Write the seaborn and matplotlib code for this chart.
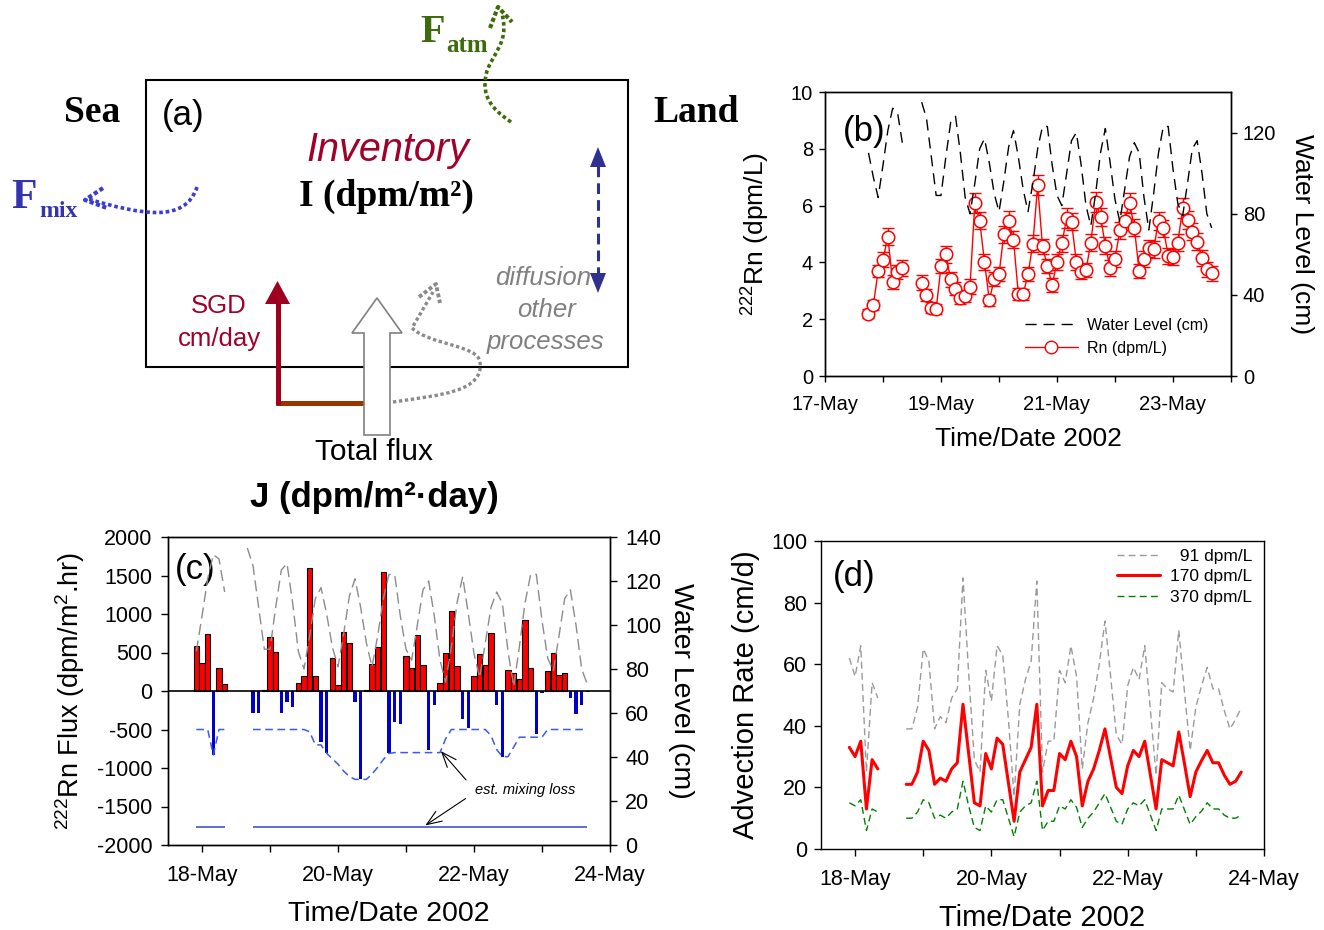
import numpy as np
import matplotlib
matplotlib.use("Agg")
import matplotlib.pyplot as plt
import seaborn as sns
from matplotlib.patches import Polygon, PathPatch
from matplotlib.path import Path
from matplotlib.lines import Line2D

W, H = 1324, 930

# ── Data ─────────────────────────────────────────────────────────────────────
# sampling times, hours after 17-May 00:00 (2-hour samples)
HOURS_B1 = np.arange(18, 33, 2)      # panel (b), first run
HOURS_B2 = np.arange(40, 161, 2)     # panel (b), second run
HOURS_CD1 = np.arange(22, 33, 2)     # panels (c)/(d), first run
HOURS_CD2 = np.arange(42, 161, 2)    # panels (c)/(d), second run

RN_1 = [2.2, 2.5, 3.7, 4.1, 4.9, 3.3, 3.65, 3.8]
RN_2 = [3.29, 2.85, 2.41, 2.35, 3.87, 4.29, 3.4, 3.08, 2.74, 2.82, 3.15, 6.1,
        5.47, 4.01, 2.66, 3.42, 3.58, 4.99, 5.47, 4.79, 2.89, 2.88, 3.58, 4.65,
        6.71, 4.56, 3.88, 3.2, 4.02, 4.67, 5.55, 5.44, 4.02, 3.67, 3.73, 4.7,
        6.14, 5.61, 4.59, 3.79, 4.12, 5.14, 5.47, 6.1, 5.22, 3.69, 4.12, 4.49,
        4.47, 5.46, 5.2, 4.24, 4.2, 4.7, 5.9, 5.48, 5.08, 4.73, 4.16, 3.75, 3.61]
RN_ERR_1 = [0.15, 0.18, 0.22, 0.25, 0.3, 0.25, 0.25, 0.28]
RN_ERR_2 = [0.25, 0.2, 0.2, 0.18, 0.25, 0.3, 0.25, 0.22, 0.2, 0.2, 0.25, 0.35,
            0.3, 0.28, 0.2, 0.25, 0.25, 0.3, 0.35, 0.3, 0.2, 0.2, 0.25, 0.3,
            0.35, 0.28, 0.25, 0.25, 0.28, 0.3, 0.35, 0.3, 0.28, 0.25, 0.25, 0.3,
            0.35, 0.32, 0.3, 0.28, 0.28, 0.3, 0.32, 0.35, 0.3, 0.25, 0.28, 0.3,
            0.3, 0.32, 0.3, 0.28, 0.28, 0.3, 0.35, 0.32, 0.3, 0.3, 0.28, 0.25, 0.25]

WL_1 = [110, 98, 88, 104, 121, 132, 130, 115]
WL_2 = [135, 127, 108, 89, 89, 108, 125, 128, 110, 88, 80, 95, 112, 117, 105,
        90, 81, 96, 113, 121, 108, 92, 81, 95, 112, 123, 123, 104, 89, 84, 100,
        116, 120, 104, 84, 74, 90, 110, 122, 105, 87, 76, 92, 108, 115, 110, 88,
        72, 90, 110, 123, 123, 102, 85, 79, 95, 112, 116, 100, 80, 73]

FLUX_1 = [590, 370, 745, -830, 300, 90]
FLUX_2 = [-280, -280, 10, 700, 510, -280, -147, -212, 100, 200,
          1594, 200, -667, -805, 424, 74, 762, 628, -147, -1148,
          17, 355, 567, 1546, -810, -398, -429, 455, 294, 727,
          333, -766, -182, 108, 494, 1039, 320, -368, -476, 190,
          480, 333, 749, -182, -853, 268, 234, 156, 927, 303,
          -563, -26, 264, 494, 208, 234, -95, -299, -186, -17]
MIX_1 = [-500, -500, -500, -830, -500, -500]
MIX_2 = [-500] * 10 + [
    -530, -700, -700, -810, -880, -950, -1040, -1110, -1148, -1148,
    -1148, -1080, -990, -890, -810, -800, -800, -800, -800, -800,
    -800, -800, -800, -800, -620, -500, -500, -500, -500, -500,
    -500, -500, -580, -760, -853, -853, -730, -600, -600, -600,
    -600, -600, -500, -500, -500, -500, -500, -500, -500, -500]
MIX_FLOOR = -1760

ADV91_1 = [62, 56, 66, 25, 54, 49]
ADV91_2 = [39, 39, 46, 65, 61, 39, 43, 41, 49, 52, 88, 57, 29, 25, 58, 48, 66,
           63, 42, 17, 47, 55, 61, 87, 25, 35, 35, 58, 54, 66, 56, 26, 41, 49,
           60, 74, 56, 37, 34, 53, 59, 55, 66, 45, 24, 54, 52, 51, 71, 51, 32,
           46, 53, 59, 52, 52, 45, 39, 42, 46]
ADV170_1 = [33, 30, 35, 13, 29, 26]
ADV170_2 = [21, 21, 25, 35, 32, 21, 23, 22, 26, 28, 47, 31, 15, 14, 31, 26, 36,
            34, 21.5, 9, 25, 29, 33, 47, 14, 19, 19, 31, 29, 35, 30, 14, 22, 26,
            32, 39, 29.5, 20, 18, 27, 32, 30, 35, 24, 13, 29, 28, 27, 38, 27.7,
            17, 25, 28.7, 32, 28, 28, 24, 21, 22, 25]
ADV370_1 = [15, 14, 16, 6, 13, 12]
ADV370_2 = [10, 10, 12, 16, 15, 10, 11, 10, 12, 13, 22, 14, 7, 6, 14, 12, 16,
            16, 10, 4, 12, 14, 15, 22, 6, 9, 9, 14, 13, 16, 13.5, 7, 10, 12, 15,
            18, 13.5, 9, 8, 13, 15, 14, 16, 11, 6, 13, 13, 13, 17.5, 12.7, 8,
            10.5, 12.3, 15, 13, 13, 11, 10, 10, 11]

DAYS_B = [17, 18, 19, 20, 21, 22, 23, 24]
DAY_LABELS_B = ["17-May", "", "19-May", "", "21-May", "", "23-May", ""]
DAYS_CD = [18, 19, 20, 21, 22, 23, 24]
DAY_LABELS_CD = ["18-May", "", "20-May", "", "22-May", "", "24-May"]


def to_day(hours):
    return 17 + np.asarray(hours) / 24.0


# ── Style ────────────────────────────────────────────────────────────────────
sns.set_theme(style="ticks")
plt.rcParams["font.family"] = ["Liberation Sans", "DejaVu Sans"]
plt.rcParams["mathtext.fontset"] = "custom"
plt.rcParams["mathtext.rm"] = "Liberation Sans"
plt.rcParams["mathtext.it"] = "Liberation Sans:italic"
plt.rcParams["axes.unicode_minus"] = False
plt.rcParams["text.color"] = "black"
plt.rcParams["axes.labelcolor"] = "black"
plt.rcParams["axes.edgecolor"] = "black"
plt.rcParams["axes.linewidth"] = 1.0
plt.rcParams["xtick.color"] = "black"
plt.rcParams["ytick.color"] = "black"

fig = plt.figure(figsize=(W / 100, H / 100), dpi=100)


def px_axes(left, top, right, bottom):
    return fig.add_axes([left / W, 1 - bottom / H, (right - left) / W, (bottom - top) / H])


def seg_line(ax, t, v, **kw):
    sns.lineplot(x=np.asarray(t, float), y=np.asarray(v, float), ax=ax,
                 sort=False, estimator=None, legend=False, **kw)


def style_ticks(ax, size, length, xpad=9.5, ypad=4.5):
    ax.tick_params(direction="out", length=length, width=1, labelsize=size,
                   colors="black")
    ax.tick_params(axis="x", pad=xpad)
    ax.tick_params(axis="y", pad=ypad)
    for s in ax.spines.values():
        s.set_visible(True)
        s.set_color("black")
        s.set_linewidth(1.0)


# ── Panel (a): box diagram, drawn in pixel coordinates ───────────────────────
ax_a = fig.add_axes([0, 0, 1, 1])
ax_a.set_xlim(0, W)
ax_a.set_ylim(H, 0)
ax_a.axis("off")

SERIF = "Liberation Serif"
RED_D = "#A0002A"
BLUE_D = "#3434B0"
GREEN_D = "#3D6B0C"
GREY = "#8A8A8A"

ax_a.add_patch(plt.Rectangle((146, 80), 482, 287, fill=False, ec="black", lw=1.5))

ax_a.text(92, 112, "Sea", family=SERIF, weight="bold", fontsize=27, ha="center", va="center")
ax_a.text(696, 112, "Land", family=SERIF, weight="bold", fontsize=27, ha="center", va="center")
ax_a.text(183, 115, "(a)", fontsize=25, ha="center", va="center")
ax_a.text(388, 150, "Inventory", style="italic", color=RED_D, fontsize=28.5, ha="center", va="center")
ax_a.text(386, 196, "I (dpm/m²)", family=SERIF, weight="bold", fontsize=27, ha="center", va="center")

# F_mix
ax_a.text(24, 198, "F", family=SERIF, weight="bold", color=BLUE_D, fontsize=30, ha="center", va="center")
ax_a.text(58, 211, "mix", family=SERIF, weight="bold", color=BLUE_D, fontsize=17, ha="center", va="center")
p = Path([(197, 187), (185, 224), (140, 214), (88, 199)],
         [Path.MOVETO, Path.CURVE4, Path.CURVE4, Path.CURVE4])
ax_a.add_patch(PathPatch(p, fill=False, ec="#3B3BD6", lw=2.6, ls=(0, (1, 0.8))))
ax_a.plot([103, 85, 107], [188, 200, 208], color="#3B3BD6", lw=3.0, ls=(0, (1, 0.6)))

# F_atm
ax_a.text(433, 32, "F", family=SERIF, weight="bold", color=GREEN_D, fontsize=29, ha="center", va="center")
ax_a.text(467, 46, "atm", family=SERIF, weight="bold", color=GREEN_D, fontsize=18, ha="center", va="center")
p = Path([(511, 122), (490, 108), (482, 95), (486, 75),
          (490, 55), (510, 45), (502, 14)],
         [Path.MOVETO, Path.CURVE4, Path.CURVE4, Path.CURVE4,
          Path.CURVE4, Path.CURVE4, Path.CURVE4])
ax_a.add_patch(PathPatch(p, fill=False, ec=GREEN_D, lw=2.6, ls=(0, (1, 0.8))))
ax_a.plot([490, 498, 512], [28, 7, 22], color=GREEN_D, lw=3.0, ls=(0, (1, 0.6)))

# SGD arrow
ax_a.plot([276, 365], [403, 403], color="#993300", lw=3.6, solid_capstyle="butt", zorder=2)
ax_a.plot([277.5, 277.5], [405, 300], color="#A00020", lw=3.6, solid_capstyle="butt", zorder=2)
ax_a.add_patch(Polygon([(265, 304), (290, 304), (277.5, 281)], closed=True, fc="#A00020", ec="none", zorder=2))
ax_a.text(219, 306, "SGD", color=RED_D, fontsize=18.5, ha="center", va="center")
ax_a.text(219, 339, "cm/day", color=RED_D, fontsize=18.5, ha="center", va="center")

# total flux block arrow
ax_a.add_patch(Polygon([(364, 435), (390, 435), (390, 333), (402, 333), (377, 298),
                        (352, 333), (364, 333)], closed=True, fc="white", ec="#808080",
                       lw=1.2, zorder=3))
ax_a.text(374, 452, "Total flux", fontsize=21.5, ha="center", va="center")
ax_a.text(374, 497, "J (dpm/m²·day)", fontsize=25, weight="bold", ha="center", va="center")

# diffusion / other processes
p = Path([(393, 402), (440, 395), (484, 392), (480, 362),
          (478, 345), (430, 345), (412, 328), (433, 292)],
         [Path.MOVETO, Path.CURVE4, Path.CURVE4, Path.CURVE4,
          Path.CURVE4, Path.CURVE4, Path.CURVE4, Path.LINETO])
ax_a.add_patch(PathPatch(p, fill=False, ec=GREY, lw=2.4, ls=(0, (1, 0.8)), zorder=4))
ax_a.plot([419, 436, 440], [297, 284, 303], color=GREY, lw=2.8, ls=(0, (1, 0.6)), zorder=4)
ax_a.text(543, 278, "diffusion", color="#808080", style="italic", fontsize=18.5, ha="center", va="center")
ax_a.text(547, 310, "other", color="#808080", style="italic", fontsize=18.5, ha="center", va="center")
ax_a.text(545, 342, "processes", color="#808080", style="italic", fontsize=18.5, ha="center", va="center")

# vertical exchange, dashed double arrow
ax_a.plot([598, 598], [166, 274], color="#2E3192", lw=2.2, ls=(0, (3.5, 2)))
ax_a.add_patch(Polygon([(590, 167), (606, 167), (598, 147)], closed=True, fc="#2E3192", ec="none"))
ax_a.add_patch(Polygon([(590, 273), (606, 273), (598, 293)], closed=True, fc="#2E3192", ec="none"))

# ── Panel (b): Rn and water level ────────────────────────────────────────────
ax_b = px_axes(825, 92, 1231, 376)
ax_b2 = ax_b.twinx()

for hrs, rn, err in [(HOURS_B1, RN_1, RN_ERR_1), (HOURS_B2, RN_2, RN_ERR_2)]:
    t = to_day(hrs)
    ax_b.errorbar(t, rn, yerr=err, fmt="none", ecolor="red", elinewidth=1,
                  capsize=4.3, capthick=1, zorder=2)
    seg_line(ax_b, t, rn, color="red", lw=1, marker="o", markersize=9,
             markerfacecolor="white", markeredgecolor="red", markeredgewidth=1.1,
             zorder=3)
for hrs, wl in [(HOURS_B1, WL_1), (HOURS_B2, WL_2)]:
    seg_line(ax_b2, to_day(hrs), wl, color="black", lw=1, ls=(0, (8, 5)))

ax_b.set_xlim(17, 24)
ax_b.set_ylim(0, 10)
ax_b2.set_ylim(0, 140)
ax_b.set_xticks(DAYS_B)
ax_b.set_xticklabels(DAY_LABELS_B)
ax_b.set_yticks([0, 2, 4, 6, 8, 10])
ax_b2.set_yticks([0, 40, 80, 120])
style_ticks(ax_b, 14.5, 4)
style_ticks(ax_b2, 14.5, 4)
ax_b.set_xlabel("Time/Date 2002", fontsize=19)
ax_b.xaxis.set_label_coords(0.5, -0.18)
ax_b.set_ylabel(r"$^{222}$Rn (dpm/L)", fontsize=19)
ax_b.yaxis.set_label_coords(-0.13, 0.5)
ax_b2.set_ylabel("Water Level (cm)", fontsize=19, rotation=270, va="bottom")
ax_b2.yaxis.set_label_coords(1.145, 0.5)
ax_b.text(0.044, 0.86, "(b)", transform=ax_b.transAxes, fontsize=25, ha="left", va="center")
hb = [Line2D([], [], color="black", lw=1, ls=(0, (8, 5))),
      Line2D([], [], color="red", lw=1, marker="o", markersize=9,
             markerfacecolor="white", markeredgecolor="red")]
ax_b.legend(hb, ["Water Level (cm)", "Rn (dpm/L)"], loc="lower right",
            bbox_to_anchor=(0.98, 0.02), frameon=False, fontsize=11.5,
            handlelength=3.3, labelspacing=0.5, numpoints=1, handletextpad=0.6)

# ── Panel (c): Rn flux ───────────────────────────────────────────────────────
ax_c = px_axes(168, 537, 610, 845)
ax_c2 = ax_c.twinx()

for hrs, flux, mix in [(HOURS_CD1, FLUX_1, MIX_1), (HOURS_CD2, FLUX_2, MIX_2)]:
    t = to_day(hrs)
    f = np.asarray(flux, float)
    pos = f >= 0
    ax_c.bar(t[pos], f[pos], width=1 / 12, color="#FF0000", edgecolor="black",
             linewidth=0.8, zorder=2)
    ax_c.bar(t[~pos], f[~pos], width=0.045, color="#0000C8", edgecolor="none", zorder=2)
    seg_line(ax_c, t, mix, color="#3A5AF0", lw=1.1, ls=(0, (5, 3)), zorder=3)
    ax_c.hlines(MIX_FLOOR, t[0], t[-1], color="#3A44C8", lw=1.1, zorder=3)

ax_c.axhline(0, color="black", lw=1.2, zorder=4)

wl1_t = to_day(HOURS_B1)
keep = wl1_t >= to_day(HOURS_CD1[0]) - 0.01
seg_line(ax_c2, wl1_t[keep], np.asarray(WL_1)[keep], color="#8C8C8C", lw=1, ls=(0, (8, 4)))
seg_line(ax_c2, to_day(HOURS_B2), WL_2, color="#8C8C8C", lw=1, ls=(0, (8, 4)))

ax_c.set_xlim(17.5, 24)
ax_c.set_ylim(-2000, 2000)
ax_c2.set_ylim(0, 140)
ax_c.set_xticks(DAYS_CD)
ax_c.set_xticklabels(DAY_LABELS_CD)
ax_c.set_yticks(np.arange(-2000, 2001, 500))
ax_c2.set_yticks(np.arange(0, 141, 20))
style_ticks(ax_c, 15.5, 5, ypad=6)
style_ticks(ax_c2, 15.5, 5, ypad=6)
ax_c.set_xlabel("Time/Date 2002", fontsize=20.5)
ax_c.xaxis.set_label_coords(0.5, -0.182)
ax_c.set_ylabel(r"$^{222}$Rn Flux (dpm/m$^{2}$.hr)", fontsize=19.5)
ax_c.yaxis.set_label_coords(-0.183, 0.5)
ax_c2.set_ylabel("Water Level (cm)", fontsize=20.5, rotation=270, va="bottom")
ax_c2.yaxis.set_label_coords(1.131, 0.5)
ax_c.text(0.016, 0.893, "(c)", transform=ax_c.transAxes, fontsize=25, ha="left", va="center")
ax_c.text(22.76, -1286, "est. mixing loss", style="italic", fontsize=10.5,
          ha="center", va="center", zorder=5)
arrow = dict(arrowstyle="->,head_length=0.9,head_width=0.35", color="black", lw=0.8)
ax_c.annotate("", xy=(21.25, -1766), xytext=(21.91, -1377), arrowprops=arrow, zorder=5)
ax_c.annotate("", xy=(21.485, -753), xytext=(21.91, -1182), arrowprops=arrow, zorder=5)

# ── Panel (d): advection rates ───────────────────────────────────────────────
ax_d = px_axes(821, 541, 1264, 849)
series_d = [
    ("  91 dpm/L", ADV91_1, ADV91_2, dict(color="#9A9A9A", lw=1, ls=(0, (5, 3)))),
    ("170 dpm/L", ADV170_1, ADV170_2, dict(color="#FF0000", lw=2.2, ls="-")),
    ("370 dpm/L", ADV370_1, ADV370_2, dict(color="#008000", lw=1, ls=(0, (5, 3)))),
]
hd = []
for label, v1, v2, kw in series_d:
    seg_line(ax_d, to_day(HOURS_CD1), v1, **kw)
    seg_line(ax_d, to_day(HOURS_CD2), v2, **kw)
    hd.append(Line2D([], [], **kw))

ax_d.set_xlim(17.5, 24)
ax_d.set_ylim(0, 100)
ax_d.set_xticks(DAYS_CD)
ax_d.set_xticklabels(DAY_LABELS_CD)
ax_d.set_yticks(np.arange(0, 101, 20))
style_ticks(ax_d, 15.5, 5, ypad=5)
ax_d.set_xlabel("Time/Date 2002", fontsize=21)
ax_d.xaxis.set_label_coords(0.5, -0.178)
ax_d.set_ylabel("Advection Rate (cm/d)", fontsize=21)
ax_d.yaxis.set_label_coords(-0.138, 0.5)
ax_d.text(0.027, 0.886, "(d)", transform=ax_d.transAxes, fontsize=25, ha="left", va="center")
ax_d.legend(hd, [s[0] for s in series_d], loc="upper right", bbox_to_anchor=(1.01, 1.025),
            frameon=False, fontsize=12.5, handlelength=2.5, labelspacing=0.3,
            handletextpad=0.6)

fig.savefig("out.png", dpi=100)
